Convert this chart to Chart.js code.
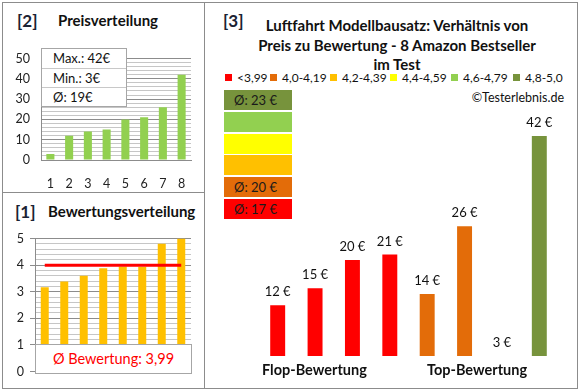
<!DOCTYPE html>
<html>
<head>
<meta charset="utf-8">
<script src="https://cdn.jsdelivr.net/npm/chart.js@4.4.1/dist/chart.umd.min.js"></script>
<style>
    body { margin: 0; background: #fff; font-family: Lato, 'Open Sans', sans-serif; color: #111; }
    #wrap { position: relative; width: 580px; height: 390px; overflow: hidden; }
    .panel { position: absolute; border: 1px solid #8c8c8c; box-sizing: border-box; }
    .abs { position: absolute; white-space: nowrap; line-height: 1; }
    canvas { position: absolute; }
    .num { font-size: 17px; font-weight: bold; color: #1b2233; }
    .ttl { font-size: 15px; font-weight: bold; }
    .statbox { position: absolute; left: 41px; top: 48px; width: 86px; border: 1px solid #a6a6a6; background: #fff; box-sizing: border-box; }
    .statbox div { height: 19px; line-height: 19px; font-size: 13px; padding-left: 11px; border-top: 1px solid #c8c8c8; box-sizing: border-box; }
    .statbox div:first-child { border-top: none; }
    .avgbox { position: absolute; left: 35px; top: 344px; width: 157px; height: 30px; border: 1px solid #a6a6a6; background: #fff; box-sizing: border-box;
              color: #ff0000; font-size: 14.5px; text-align: center; line-height: 28px; }
    .main-title { position: absolute; left: 205px; width: 384px; text-align: center; font-size: 15px; font-weight: bold; line-height: 1; }
    .leg { position: absolute; top: 72px; font-size: 12px; line-height: 12px; white-space: nowrap; }
    .leg i { display: inline-block; width: 7px; height: 7px; margin-right: 5px; vertical-align: 1px; }
    .classbox { position: absolute; left: 224px; width: 68px; height: 20px; font-size: 13px; line-height: 20px; padding-left: 10px; box-sizing: border-box; color: #1a1a1a; }
</style>
</head>
<body>
<div id="wrap">
    <div class="panel" style="left:2px;top:2px;width:203px;height:191px;"></div>
    <div class="panel" style="left:2px;top:192px;width:203px;height:197px;"></div>
    <div class="panel" style="left:204px;top:2px;width:374px;height:387px;"></div>

    <div class="abs num" style="left:17px;top:12px;">[2]</div>
    <div class="abs ttl" style="left:58px;top:13px;">Preisverteilung</div>
    <div class="abs num" style="left:15px;top:203px;">[1]</div>
    <div class="abs ttl" style="left:48px;top:204px;">Bewertungsverteilung</div>
    <div class="abs num" style="left:223px;top:12px;">[3]</div>

    <canvas id="priceChart" width="200" height="150" style="left:0;top:40px;"></canvas>
    <div class="statbox" id="statBox"></div>

    <canvas id="ratingChart" width="200" height="160" style="left:0;top:225px;"></canvas>
    <div class="avgbox" id="avgBox"></div>

    <div class="main-title" style="top:18px;">Luftfahrt Modellbausatz: Verhältnis von</div>
    <div class="main-title" style="top:38px;">Preis zu Bewertung - 8 Amazon Bestseller</div>
    <div class="main-title" style="top:57px;">im Test</div>
    <div id="legend"></div>
    <div class="abs" style="right:16px;top:92px;font-size:12.5px;">©Testerlebnis.de</div>
    <div id="classBoxes"></div>

    <canvas id="compareChart" width="320" height="260" style="left:250px;top:110px;"></canvas>
    <div class="abs ttl" style="left:262px;top:363px;font-size:14.5px;">Flop-Bewertung</div>
    <div class="abs ttl" style="left:427px;top:363px;font-size:14.5px;">Top-Bewertung</div>
</div>

<script>
// --- Data ---
const productNo = ['1', '2', '3', '4', '5', '6', '7', '8'];
const prices = [3, 12, 14, 15, 20, 21, 26, 42];
const ratings = [3.17, 3.38, 3.6, 3.88, 3.95, 3.94, 4.8, 5.0];
const avgRating = 3.99;

const compareLabels = ['1', '2', '3', '4', '5', '6', '7', '8'];
const comparePrices = [12, 15, 20, 21, 14, 26, 3, 42];
const compareClass = [0, 0, 0, 0, 1, 1, 5, 5];

const classLabels = ['<3,99', '4,0-4,19', '4,2-4,39', '4,4-4,59', '4,6-4,79', '4,8-5,0'];
const classColors = ['#ff0000', '#e36c09', '#ffc000', '#ffff00', '#92d050', '#77933c'];
const classAvg = [17, 20, null, null, null, 23];

// legend x positions (style only)
const legendLeft = [225, 270, 330, 390, 451, 513];

Chart.defaults.font.family = "Lato, 'Open Sans', sans-serif";
Chart.defaults.color = '#222';

// --- Text boxes ---
const avgPrice = prices.reduce((a, b) => a + b, 0) / prices.length;
document.getElementById('statBox').innerHTML = `
    <div>Max.: ${Math.max(...prices)}€</div>
    <div>Min.: ${Math.min(...prices)}€</div>
    <div>Ø: ${Math.round(avgPrice)}€</div>`;
document.getElementById('avgBox').textContent = 'Ø Bewertung: ' + avgRating.toFixed(2).replace('.', ',');

document.getElementById('legend').innerHTML = classLabels.map((l, i) =>
    `<div class="leg" style="left:${legendLeft[i]}px;"><i style="background:${classColors[i]}"></i>${l}</div>`
).join('');

// boxes from top (best class) to bottom
let boxHtml = '';
for (let k = classLabels.length - 1, row = 0; k >= 0; k--, row++) {
    const txt = classAvg[k] != null ? `Ø: ${classAvg[k]} €` : '';
    boxHtml += `<div class="classbox" style="top:${90 + row * 21.8}px;background:${classColors[k]}">${txt}</div>`;
}
document.getElementById('classBoxes').innerHTML = boxHtml;

const isMajor = v => Math.abs(v - Math.round(v)) < 1e-6;

// --- [2] Preisverteilung ---
new Chart(document.getElementById('priceChart'), {
    type: 'bar',
    data: {
        labels: productNo,
        datasets: [{ data: prices, backgroundColor: '#92d050', barPercentage: 0.43, categoryPercentage: 1 }]
    },
    options: {
        responsive: false,
        animation: false,
        layout: { padding: { left: 0, right: 9, top: 7, bottom: 0 } },
        plugins: { legend: { display: false }, tooltip: { enabled: false } },
        scales: {
            x: {
                grid: { display: false },
                border: { color: '#8c8c8c' },
                ticks: { font: { size: 12.5 }, padding: 8 },
                afterFit: s => { s.height = 30; }
            },
            y: {
                min: 0, max: 50,
                ticks: { stepSize: 2, autoSkip: false, font: { size: 12.5 }, padding: 11,
                         callback: v => v % 10 === 0 ? v : '' },
                grid: { drawTicks: false, color: c => c.tick.value % 10 === 0 ? '#8c8c8c' : '#c6c6c6' },
                border: { color: '#8c8c8c' },
                afterFit: s => { s.width = 41; }
            }
        }
    }
});

// --- [1] Bewertungsverteilung ---
new Chart(document.getElementById('ratingChart'), {
    type: 'bar',
    data: {
        labels: productNo,
        datasets: [
            { type: 'line', data: ratings.map(() => avgRating), borderColor: '#ff0000', borderWidth: 3,
              pointRadius: 0, order: 0 },
            { data: ratings, backgroundColor: '#ffc000', barPercentage: 0.41, categoryPercentage: 1, order: 1 }
        ]
    },
    options: {
        responsive: false,
        animation: false,
        layout: { padding: { left: 0, right: 9, top: 13, bottom: 12 } },
        plugins: { legend: { display: false }, tooltip: { enabled: false } },
        scales: {
            x: { display: false },
            y: {
                min: 0, max: 5,
                ticks: { stepSize: 0.2, autoSkip: false, font: { size: 12.5 }, padding: 6,
                         callback: v => isMajor(v) ? Math.round(v) : '' },
                grid: { tickLength: 5, color: c => isMajor(c.tick.value) ? '#8c8c8c' : '#c6c6c6',
                        tickColor: c => isMajor(c.tick.value) ? '#8c8c8c' : 'rgba(0,0,0,0)' },
                border: { color: '#8c8c8c' },
                afterFit: s => { s.width = 35; }
            }
        }
    }
});

// --- [3] Preis zu Bewertung ---
const valueLabels = {
    id: 'valueLabels',
    afterDatasetsDraw(chart) {
        const { ctx } = chart;
        const meta = chart.getDatasetMeta(0);
        ctx.save();
        ctx.font = "13px Lato, 'Open Sans', sans-serif";
        ctx.fillStyle = '#111';
        ctx.textAlign = 'center';
        ctx.textBaseline = 'middle';
        meta.data.forEach((bar, i) => {
            ctx.fillText(comparePrices[i] + ' €', bar.x, bar.y - 13);
        });
        ctx.restore();
    }
};

new Chart(document.getElementById('compareChart'), {
    type: 'bar',
    data: {
        labels: compareLabels,
        datasets: [{
            data: comparePrices,
            backgroundColor: compareClass.map(c => classColors[c]),
            barPercentage: 0.4,
            categoryPercentage: 1
        }]
    },
    options: {
        responsive: false,
        animation: false,
        layout: { padding: { left: 9, right: 12, top: 9, bottom: 14 } },
        plugins: { legend: { display: false }, tooltip: { enabled: false } },
        scales: {
            x: { display: false },
            y: { display: false, min: 3, max: 45 }
        }
    },
    plugins: [valueLabels]
});
</script>
</body>
</html>
